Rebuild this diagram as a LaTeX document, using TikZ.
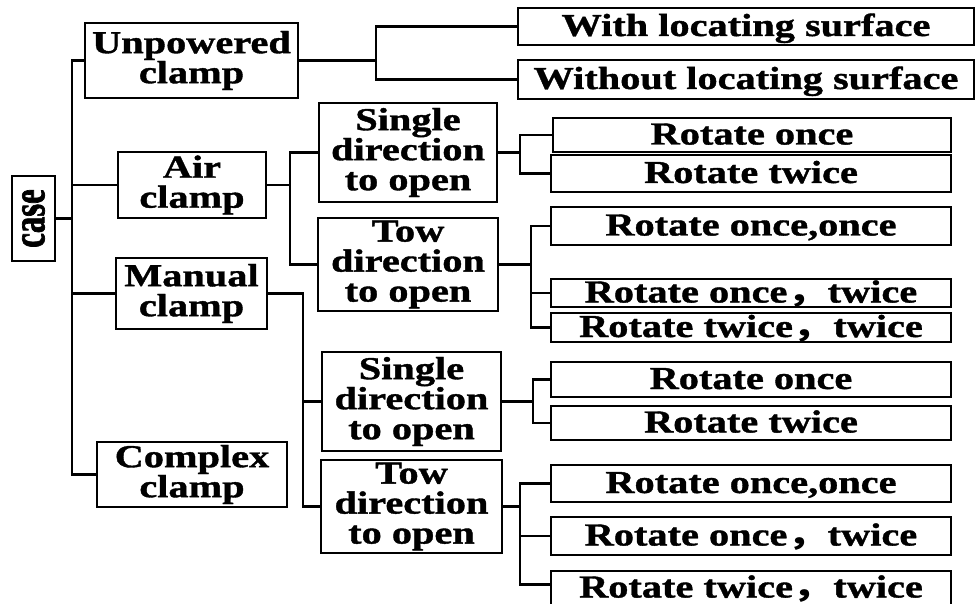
\documentclass[tikz,border=0pt]{standalone}
\usepackage{graphicx}
\usepackage{fontspec}
\setmainfont{Liberation Serif}[FakeStretch=1.26, FakeBold=1.2]
\newfontfamily\cjk{Noto Sans CJK SC}[FakeStretch=1.26]
\newfontfamily\casefont{Liberation Serif}[FakeStretch=0.7, FakeBold=1.5]
\newcommand\fwc{{\cjk ，}}
\begin{document}
\begin{tikzpicture}[x=1pt,y=-1pt,
  box/.style={draw, line width=2.6pt, inner sep=0pt, align=center,
    font=\bfseries\fontsize{32}{30}\selectfont},
  leaf/.style={box, minimum width=400pt, text height=21pt, text depth=2pt},
  wire/.style={line width=2.6pt}]
\useasboundingbox (0,0) rectangle (975,604);
\clip (0,0) rectangle (975,604);

% root
\node[box, minimum width=43pt, minimum height=85pt] (case) at (33.5,218.5)
  {\rotatebox{90}{\casefont\bfseries\fontsize{47}{47}\selectfont case}};

% first level
\node[box, minimum width=213pt, minimum height=75pt] (unp) at (191.5,60.5) {Unpowered\\clamp};
\node[box, minimum width=148pt, minimum height=66pt] (air) at (192,185) {Air\\clamp};
\node[box, minimum width=151pt, minimum height=71pt] (man) at (191.5,293.5) {Manual\\clamp};
\node[box, minimum width=190pt, minimum height=65pt] (cpx) at (192,474.5) {Complex\\clamp};

% second level
\node[box, minimum width=178pt, minimum height=99pt] (sdA) at (408,152.5) {Single\\direction\\to open};
\node[box, minimum width=180pt, minimum height=93pt] (tdA) at (408,264.5) {Tow\\direction\\to open};
\node[box, minimum width=179pt, minimum height=99pt] (sdM) at (411.5,401.5) {Single\\direction\\to open};
\node[box, minimum width=181pt, minimum height=93pt] (tdM) at (411.5,506.5) {Tow\\direction\\to open};

% leaves
\node[leaf, minimum width=456pt, minimum height=37pt] (with) at (746,26.5) {With locating surface};
\node[leaf, minimum width=456pt, minimum height=39pt] (without) at (746,79.5) {Without locating surface};
\node[leaf, minimum width=398pt, minimum height=34pt] (r1) at (752,135) {Rotate once};
\node[leaf, minimum height=37pt] (r2) at (751,173.5) {Rotate twice};
\node[leaf, minimum height=38pt] (r3) at (751,226) {Rotate once,once};
\node[leaf, minimum height=28pt] (r4) at (751,293) {Rotate once\fwc twice};
\node[leaf, minimum height=29pt] (r5) at (751,327.5) {Rotate twice\fwc twice};
\node[leaf, minimum height=35pt] (r6) at (751,379.5) {Rotate once};
\node[leaf, minimum height=34pt] (r7) at (751,423) {Rotate twice};
\node[leaf, minimum height=37pt] (r8) at (751,483.5) {Rotate once,once};
\node[leaf, minimum height=38pt] (r9) at (751,536) {Rotate once\fwc twice};
\node[leaf, minimum height=34pt] (r10) at (751,588) {Rotate twice\fwc twice};

% junctions of the brackets
\coordinate (j0) at (72,218.5);
\coordinate (j1) at (376,60.5);
\coordinate (j2) at (290,185);
\coordinate (j3) at (303,293.5);
\coordinate (j4) at (520,152.5);
\coordinate (j5) at (531,264.5);
\coordinate (j6) at (533,401.5);
\coordinate (j7) at (520,506.5);

% connectors
\draw[wire] (case.east) -- (j0);
\draw[wire] (unp.west) -| (j0) |- (cpx.west);
\draw[wire] (j0) |- (air.west);
\draw[wire] (j0) |- (man.west);

\draw[wire] (unp.east) -- (j1);
\draw[wire] (with.west) -| (j1) |- (without.west);

\draw[wire] (air.east) -- (j2);
\draw[wire] (sdA.west) -| (j2) |- (tdA.west);

\draw[wire] (man.east) -| (j3) |- (tdM.west);
\draw[wire] (j3) |- (sdM.west);

\draw[wire] (sdA.east) -- (j4);
\draw[wire] (r1.west) -| (j4) |- (r2.west);

\draw[wire] (tdA.east) -- (j5);
\draw[wire] (r3.west) -| (j5) |- (r5.west);
\draw[wire] (j5) |- (r4.west);

\draw[wire] (sdM.east) -- (j6);
\draw[wire] (r6.west) -| (j6) |- (r7.west);

\draw[wire] (tdM.east) -- (j7);
\draw[wire] (r8.west) -| (j7) |- (r10.179);
\draw[wire] (j7) |- (r9.west);
\end{tikzpicture}
\end{document}
